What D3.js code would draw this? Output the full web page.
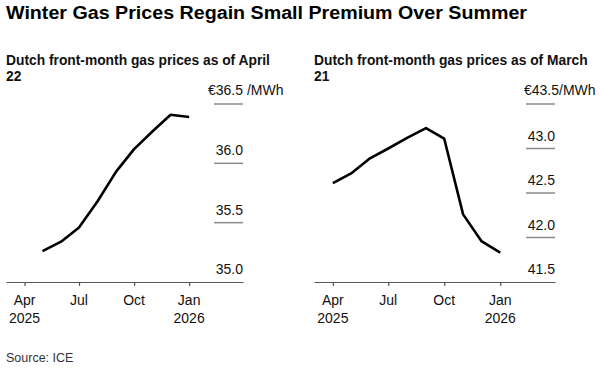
<!DOCTYPE html>
<html>
<head>
<meta charset="utf-8">
<script src="https://cdn.jsdelivr.net/npm/d3@7"></script>
<style>
  body { margin: 0; background: #fff; }
  svg { font-family: "Liberation Sans", Arial, Helvetica, sans-serif; }
</style>
</head>
<body>
<svg id="chart" width="600" height="368"></svg>
<script>
// ---- data ----
const title = "Winter Gas Prices Regain Small Premium Over Summer";
const source = "Source: ICE";

const leftSubtitle = ["Dutch front-month gas prices as of April", "22"];
const leftDates = ["2025-05-01","2025-06-01","2025-07-01","2025-08-01","2025-09-01","2025-10-01","2025-11-01","2025-12-01","2026-01-01"];
const leftValues = [35.26, 35.34, 35.46, 35.68, 35.93, 36.12, 36.27, 36.41, 36.39];
const leftYTicks = [35.0, 35.5, 36.0, 36.5];
const leftUnit = " /MWh";

const rightSubtitle = ["Dutch front-month gas prices as of March", "21"];
const rightDates = ["2025-04-01","2025-05-01","2025-06-01","2025-07-01","2025-08-01","2025-09-01","2025-10-01","2025-11-01","2025-12-01","2026-01-01"];
const rightValues = [42.61, 42.72, 42.89, 43.00, 43.12, 43.23, 43.11, 42.26, 41.96, 41.83];
const rightYTicks = [41.5, 42.0, 42.5, 43.0, 43.5];
const rightUnit = "/MWh";

const xTickDates = ["2025-04-01","2025-07-01","2025-10-01","2026-01-01"];
const xTickMonths = ["Apr","Jul","Oct","Jan"];
const xTickYears = ["2025","","","2026"];
const xDomain = ["2025-03-01","2026-04-01"];

// ---- drawing ----
const svg = d3.select("#chart");
const parse = d3.utcParse("%Y-%m-%d");

svg.append("text").attr("x", 6).attr("y", 19)
  .attr("font-size", 17.5).attr("font-weight", "bold").attr("fill", "#000")
  .attr("textLength", 521).attr("lengthAdjust", "spacingAndGlyphs")
  .text(title);

svg.append("text").attr("x", 6).attr("y", 362)
  .attr("font-size", 12.5).attr("fill", "#333").text(source);

function panel(cfg) {
  const g = svg.append("g");
  const x = d3.scaleUtc().domain(xDomain.map(parse)).range([cfg.x0, cfg.x1]);
  const y = d3.scaleLinear().domain([cfg.yTicks[0], cfg.yTicks[cfg.yTicks.length - 1]]).range([282, 104]);

  // subtitle
  const st = g.append("text").attr("font-size", 13.8).attr("font-weight", "bold").attr("fill", "#111");
  cfg.subtitle.forEach((s, i) => {
    st.append("tspan").attr("x", cfg.x0).attr("y", 65 + i * 16).text(s);
  });

  // gridlines (excluding baseline)
  const gx0 = cfg.x1 - 29;
  cfg.yTicks.slice(1).forEach(t => {
    g.append("line").attr("x1", gx0).attr("x2", cfg.x1)
      .attr("y1", y(t)).attr("y2", y(t))
      .attr("stroke", "#8a8a8a").attr("stroke-width", 1.5);
  });

  // y labels
  cfg.yTicks.forEach((t, i) => {
    const isTop = i === cfg.yTicks.length - 1;
    if (isTop) {
      g.append("text").attr("x", cfg.x1 - cfg.topOffset).attr("y", y(t) - 9)
        .attr("font-size", 14).attr("fill", "#111")
        .text("€" + d3.format(".1f")(t) + cfg.unit);
    } else {
      g.append("text").attr("x", cfg.x1).attr("y", y(t) - 8)
        .attr("text-anchor", "end").attr("font-size", 14).attr("fill", "#111")
        .text(d3.format(".1f")(t));
    }
  });

  // x axis
  const ax = d3.axisBottom(x)
    .tickValues(xTickDates.map(parse))
    .tickSize(4).tickSizeOuter(0)
    .tickFormat(() => "");
  const axg = g.append("g").attr("transform", `translate(0,${y(cfg.yTicks[0])})`).call(ax);
  axg.select(".domain").attr("stroke", "#555").attr("stroke-width", 1.2);
  axg.selectAll(".tick line").attr("stroke", "#555").attr("stroke-width", 1.2);

  xTickDates.forEach((d, i) => {
    const t = g.append("text").attr("text-anchor", "middle").attr("font-size", 14).attr("fill", "#111");
    t.append("tspan").attr("x", x(parse(d))).attr("y", 305).text(xTickMonths[i]);
    if (xTickYears[i]) t.append("tspan").attr("x", x(parse(d))).attr("y", 323).text(xTickYears[i]);
  });

  // line
  const line = d3.line().x(d => x(d[0])).y(d => y(d[1]));
  const pts = cfg.dates.map((d, i) => [parse(d), cfg.values[i]]);
  g.append("path").datum(pts).attr("d", line)
    .attr("fill", "none").attr("stroke", "#000").attr("stroke-width", 2.6)
    .attr("stroke-linejoin", "round").attr("stroke-linecap", "butt");
}

panel({ x0: 6, x1: 243, subtitle: leftSubtitle, dates: leftDates, values: leftValues, yTicks: leftYTicks, unit: leftUnit, topOffset: 35 });
panel({ x0: 314, x1: 555, subtitle: rightSubtitle, dates: rightDates, values: rightValues, yTicks: rightYTicks, unit: rightUnit, topOffset: 31 });
</script>
</body>
</html>
